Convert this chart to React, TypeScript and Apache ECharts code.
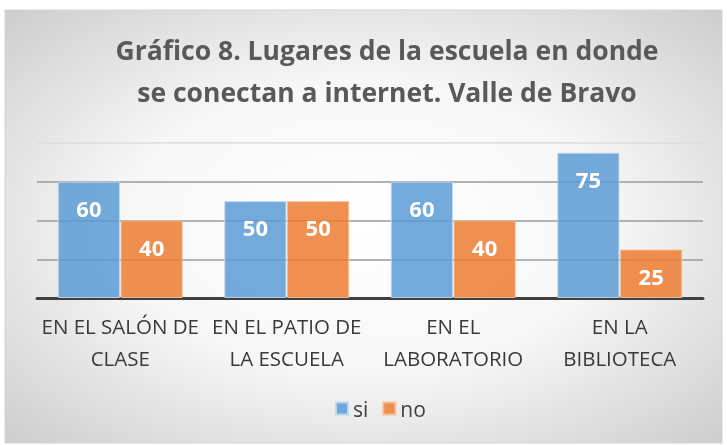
import React, { useEffect, useRef } from "react";
import * as echarts from "echarts";

const categories = [
  "EN EL SALÓN DE\nCLASE",
  "EN EL PATIO DE\nLA ESCUELA",
  "EN EL\nLABORATORIO",
  "EN LA\nBIBLIOTECA",
];
const siValues = [60, 50, 60, 75];
const noValues = [40, 50, 40, 25];
const titleText = "Gráfico 8. Lugares de la escuela en donde\nse conectan a internet. Valle de Bravo";

export default function App() {
  const ref = useRef<HTMLDivElement>(null);
  useEffect(() => {
    if (!ref.current) return;
    const chart = echarts.init(ref.current, null, { renderer: "svg" });
    const font = "'Open Sans', 'Noto Sans', sans-serif";
    const labelStyle = {
      show: true,
      position: "insideTop" as const,
      distance: 15,
      color: "#ffffff",
      fontSize: 22,
      fontWeight: "bold" as const,
      fontFamily: font,
    };
    chart.setOption({
      animation: false,
      textStyle: { fontFamily: font },
      graphic: [
        {
          type: "rect",
          z: -10,
          silent: true,
          shape: { x: 5, y: 10, width: 717, height: 433 },
          style: {
            fill: new echarts.graphic.RadialGradient(0.5, 0.5, 0.75, [
              { offset: 0, color: "#ffffff" },
              { offset: 0.45, color: "#f7f7f7" },
              { offset: 1, color: "#c8c8c8" },
            ]),
            stroke: "#d4d4d4",
            lineWidth: 1,
          },
        },
        {
          type: "text",
          x: 387,
          y: 29,
          silent: true,
          style: {
            text: titleText,
            textAlign: "center",
            fill: "#595959",
            fontSize: 26.5,
            fontWeight: "bold",
            fontFamily: font,
            lineHeight: 42,
          },
        },
      ],
      legend: {
        bottom: 21,
        left: 330,
        itemWidth: 12,
        itemHeight: 12,
        itemGap: 14,
        icon: "rect",
        textStyle: { color: "#404040", fontSize: 21, fontFamily: font },
        data: ["si", "no"],
      },
      grid: { left: 37, right: 24, top: 143, bottom: 147 },
      xAxis: {
        type: "category",
        data: categories,
        axisTick: { show: false },
        axisLine: { lineStyle: { color: "#404040", width: 3 } },
        axisLabel: {
          color: "#3a3a3a",
          fontSize: 20.5,
          lineHeight: 32,
          margin: 12,
          fontFamily: font,
          interval: 0,
        },
      },
      yAxis: {
        type: "value",
        min: 0,
        max: 80,
        interval: 20,
        axisLabel: { show: false },
        axisLine: { show: false },
        axisTick: { show: false },
        splitLine: {
          lineStyle: {
            color: ["#9a9a9a", "#9a9a9a", "#9a9a9a", "#9a9a9a", "#dcdcdc"],
            width: 1.5,
          },
        },
      },
      series: [
        {
          name: "si",
          type: "bar",
          data: siValues,
          barGap: "1%",
          barCategoryGap: "25%",
          itemStyle: {
            color: "rgba(91,155,213,0.85)",
            borderColor: "rgba(190,215,240,0.9)",
            borderWidth: 1,
          },
          label: labelStyle,
        },
        {
          name: "no",
          type: "bar",
          data: noValues,
          itemStyle: {
            color: "rgba(237,125,49,0.85)",
            borderColor: "rgba(245,190,150,0.9)",
            borderWidth: 1,
          },
          label: labelStyle,
        },
      ],
    });
    return () => chart.dispose();
  }, []);
  return (
    <div
      ref={ref}
      style={{ position: "fixed", left: 0, top: 0, width: 727, height: 445 }}
    />
  );
}
